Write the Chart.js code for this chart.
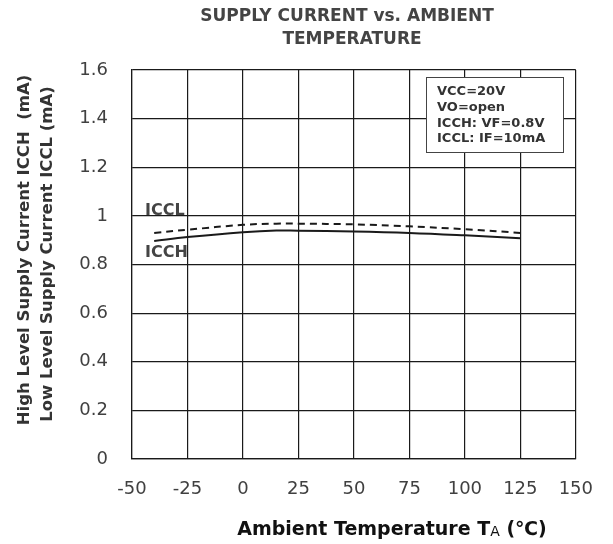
<!DOCTYPE html>
<html>
<head>
<meta charset="utf-8">
<script src="https://cdn.jsdelivr.net/npm/chart.js@4/dist/chart.umd.min.js"></script>
<style>
  html, body { margin: 0; padding: 0; background: #fff; }
  #wrap { width: 613px; height: 544px; }
</style>
</head>
<body>
<div id="wrap"><canvas id="chart" width="613" height="544"></canvas></div>
<script>
// 온도 (°C)
const temps = [-40, -25, 0, 15, 25, 50, 75, 100, 125];
// ICCL (mA) dashed
const icclValues = [0.93, 0.943, 0.963, 0.968, 0.968, 0.965, 0.957, 0.945, 0.93];
// ICCH (mA) solid
const icchValues = [0.897, 0.913, 0.933, 0.94, 0.939, 0.936, 0.93, 0.92, 0.908];

const xTicks = [-50, -25, 0, 25, 50, 75, 100, 125, 150];
const yTicks = [0, 0.2, 0.4, 0.6, 0.8, 1, 1.2, 1.4, 1.6];

const titleLines = ['SUPPLY CURRENT vs. AMBIENT', 'TEMPERATURE'];
const yTitleLines = ['High Level Supply Current ICCH  (mA)', 'Low Level Supply Current ICCL (mA)'];
const noteLines = ['VCC=20V', 'VO=open', 'ICCH: VF=0.8V', 'ICCL: IF=10mA'];

const FONT = '"DejaVu Sans", Verdana, sans-serif';

// 텍스트 주석 플러그인
const textPlugin = {
  id: 'textPlugin',
  afterDraw: (chart) => {
    const ctx = chart.ctx;
    ctx.save();

    // 제목
    ctx.font = 'bold 17px ' + FONT;
    ctx.fillStyle = '#444';
    ctx.textAlign = 'center';
    ctx.textBaseline = 'middle';
    ctx.fillText(titleLines[0], 347, 17);
    ctx.fillText(titleLines[1], 352, 40);

    // y 축 제목
    ctx.font = 'bold 16.5px ' + FONT;
    ctx.fillStyle = '#333';
    ctx.save();
    ctx.translate(25, 250);
    ctx.rotate(-Math.PI / 2);
    ctx.fillText(yTitleLines[0], 0, 0);
    ctx.restore();
    ctx.save();
    ctx.translate(48, 254);
    ctx.rotate(-Math.PI / 2);
    ctx.fillText(yTitleLines[1], 0, 0);
    ctx.restore();

    // x 축 제목 (T 아래 작은 A)
    ctx.fillStyle = '#111';
    ctx.textAlign = 'left';
    const p1 = 'Ambient Temperature T';
    const p2 = 'A';
    const p3 = ' (\u2103)';
    ctx.font = 'bold 19px ' + FONT;
    const w1 = ctx.measureText(p1).width;
    const w3 = ctx.measureText(p3).width;
    ctx.font = '14px ' + FONT;
    const w2 = ctx.measureText(p2).width;
    const x0 = 392 - (w1 + w2 + w3) / 2;
    const yb = 530;
    ctx.font = 'bold 19px ' + FONT;
    ctx.fillText(p1, x0, yb);
    ctx.font = '14px ' + FONT;
    ctx.fillText(p2, x0 + w1, yb + 2);
    ctx.font = 'bold 19px ' + FONT;
    ctx.fillText(p3, x0 + w1 + w2, yb);

    // 조건 박스
    ctx.fillStyle = '#fff';
    ctx.fillRect(426, 77, 137, 75);
    ctx.strokeStyle = '#444';
    ctx.lineWidth = 1;
    ctx.strokeRect(426.5, 77.5, 137, 75);
    ctx.fillStyle = '#333';
    ctx.font = 'bold 13px ' + FONT;
    noteLines.forEach((t, i) => ctx.fillText(t, 437, 92 + i * 15.6));

    // 시리즈 라벨
    ctx.font = 'bold 16px ' + FONT;
    ctx.fillStyle = '#444';
    ctx.fillText('ICCL', 145, 211);
    ctx.fillText('ICCH', 145, 253);

    ctx.restore();
  }
};

new Chart(document.getElementById('chart'), {
  type: 'line',
  data: {
    datasets: [
      {
        label: 'ICCL',
        data: temps.map((t, i) => ({ x: t, y: icclValues[i] })),
        borderColor: '#1a1a1a',
        borderWidth: 2,
        borderDash: [7, 5],
        pointRadius: 0,
        tension: 0.4,
        fill: false
      },
      {
        label: 'ICCH',
        data: temps.map((t, i) => ({ x: t, y: icchValues[i] })),
        borderColor: '#1a1a1a',
        borderWidth: 2,
        pointRadius: 0,
        tension: 0.4,
        fill: false
      }
    ]
  },
  options: {
    responsive: false,
    animation: false,
    layout: { padding: { left: 0, right: 30, top: 70, bottom: 0 } },
    plugins: {
      legend: { display: false },
      title: { display: false },
      tooltip: { enabled: false }
    },
    scales: {
      x: {
        type: 'linear',
        min: -50,
        max: 150,
        afterBuildTicks: (scale) => { scale.ticks = xTicks.map(v => ({ value: v })); },
        afterFit: (scale) => { scale.height = 85; },
        ticks: {
          color: '#404040',
          font: { family: FONT, size: 18 },
          padding: 20,
          maxRotation: 0
        },
        grid: { color: '#1a1a1a', lineWidth: 1.2, drawTicks: false },
        border: { color: '#1a1a1a', width: 1.2 }
      },
      y: {
        min: 0,
        max: 1.6,
        afterBuildTicks: (scale) => { scale.ticks = yTicks.map(v => ({ value: v })); },
        afterFit: (scale) => { scale.width = 132; },
        ticks: {
          color: '#404040',
          font: { family: FONT, size: 18 },
          padding: 24,
          callback: (v) => String(Math.round(v * 10) / 10)
        },
        grid: { color: '#1a1a1a', lineWidth: 1.2, drawTicks: false },
        border: { color: '#1a1a1a', width: 1.2 }
      }
    }
  },
  plugins: [textPlugin]
});
</script>
</body>
</html>
